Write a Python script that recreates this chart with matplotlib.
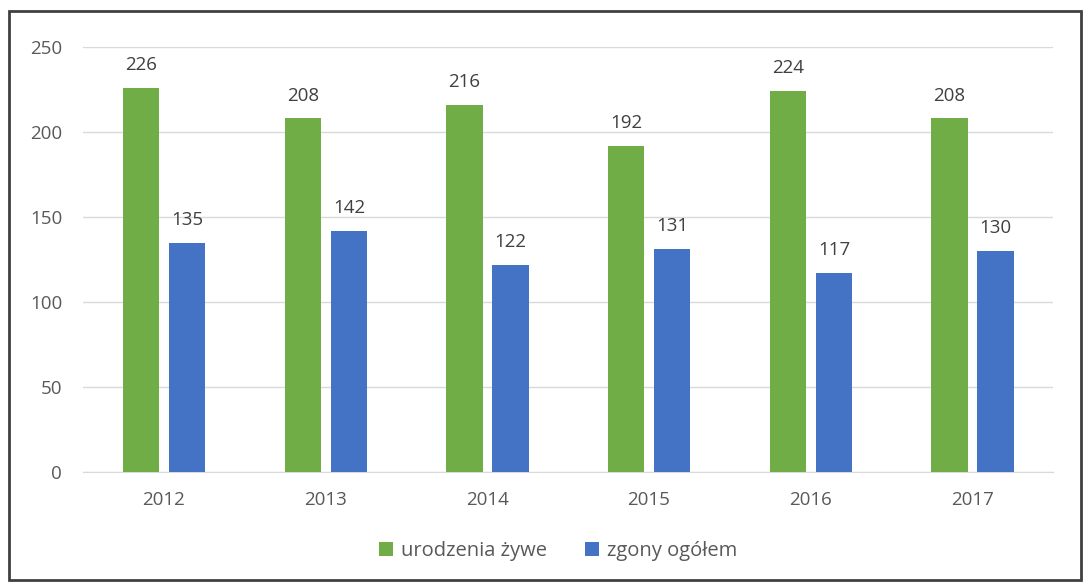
import matplotlib.pyplot as plt
import numpy as np
from matplotlib.patches import Rectangle

years = ['2012', '2013', '2014', '2015', '2016', '2017']
births = [226, 208, 216, 192, 224, 208]
deaths = [135, 142, 122, 131, 117, 130]
labels = ['urodzenia żywe', 'zgony ogółem']
colors = ['#70ad47', '#4472c4']

plt.rcParams['font.family'] = ['Open Sans', 'DejaVu Sans']

fig = plt.figure(figsize=(10.88, 5.86), dpi=100)
ax = fig.add_axes([83 / 1088, 1 - 472 / 586, 970 / 1088, 425 / 586])

x = np.arange(len(years))
w = 0.225
b1 = ax.bar(x - 0.14, births, w, color=colors[0], label=labels[0], zorder=3)
b2 = ax.bar(x + 0.145, deaths, w, color=colors[1], label=labels[1], zorder=3)

for bars in (b1, b2):
    for r in bars:
        ax.annotate(str(int(r.get_height())), (r.get_x() + r.get_width() / 2, r.get_height()),
                    xytext=(0, 10), textcoords='offset points', ha='center', va='bottom',
                    fontsize=13.5, color='#404040')

ax.set_xlim(-0.5, len(years) - 0.5)
ax.set_ylim(0, 250)
ax.set_yticks(range(0, 251, 50))
ax.set_xticks(x)
ax.set_xticklabels(years)
ax.yaxis.grid(True, color='#d9d9d9', lw=1, zorder=0)
for s in ['top', 'right', 'left']:
    ax.spines[s].set_visible(False)
ax.spines['bottom'].set_color('#d9d9d9')
ax.tick_params(axis='both', length=0, labelsize=13.5, labelcolor='#595959')
ax.tick_params(axis='x', pad=14)
ax.tick_params(axis='y', pad=15)

ax.legend(loc='center', bbox_to_anchor=(0.49, -0.185), ncol=2, frameon=False,
          fontsize=14.5, labelcolor='#595959', handlelength=0.7, handleheight=0.7,
          columnspacing=1.9, handletextpad=0.4)

fig.patches.append(Rectangle((9 / 1088, 1 - 580 / 586), 1072 / 1088, 569 / 586,
                             transform=fig.transFigure, fill=False, edgecolor='#404040', lw=2))

fig.savefig('out.png', dpi=100)
